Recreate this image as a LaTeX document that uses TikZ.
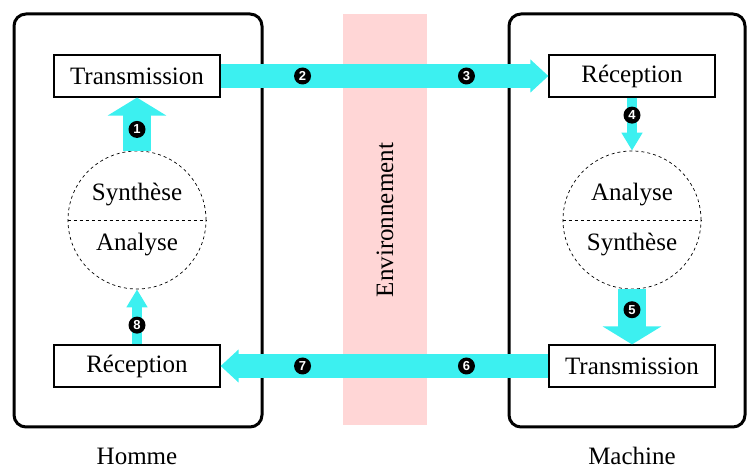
\documentclass[tikz,border=0pt]{standalone}
\usepackage{fontspec}
\setmainfont{Liberation Serif}
\newfontfamily\numfont{Liberation Sans}
\usetikzlibrary{arrows.meta}
\definecolor{flow}{RGB}{60,240,240}
\definecolor{envpink}{RGB}{255,214,214}
\begin{document}
\begin{tikzpicture}[x=1pt,y=-1pt,
  box/.style={draw,line width=1.2pt,fill=white,minimum width=166pt,minimum height=42pt,inner sep=0pt,font=\fontsize{25}{30}\selectfont},
  actor/.style={draw,line width=3pt,rounded corners=12pt},
  lbl/.style={inner sep=0pt,font=\fontsize{25}{30}\selectfont},
  proc/.style={draw,circle,dashed,line width=0.7pt,minimum size=138pt,inner sep=0pt},
  bigflow/.style={draw=flow,line width=28pt,-{Triangle[width=58pt,length=18pt]}},
  smallflow/.style={draw=flow,line width=10pt,-{Triangle[width=20pt,length=18pt]}},
  hflow/.style={draw=flow,line width=24pt,-{Triangle[width=32pt,length=18pt]}},
  num/.style={circle,fill=black,text=white,inner sep=0pt,minimum size=17pt,font=\numfont\bfseries\fontsize{13}{13}\selectfont}
]
\useasboundingbox (0,0) rectangle (748,470);
% environment band
\fill[envpink] (343,14) rectangle (427,425);
\node[lbl,rotate=90] (env) at (385,220) {Environnement};
% actors
\draw[actor] (14,14) rectangle (262,427);
\draw[actor] (509,14) rectangle (745,427);
\node[lbl] (homme) at (137,456) {Homme};
\node[lbl] (machine) at (632,456) {Machine};
% boxes
\node[box] (t1) at (137,76) {Transmission};
\node[box] (r1) at (137,366) {Réception};
\node[box] (r2) at (632,76) {Réception};
\node[box] (t2) at (632,366) {Transmission};
% processing circles
\node[proc] (c1) at (137,220) {};
\node[proc] (c2) at (632,220) {};
\draw[dashed,line width=0.7pt] (c1.west) -- (c1.east);
\draw[dashed,line width=0.7pt] (c2.west) -- (c2.east);
\node[lbl] (s1) at (137,195) {Synthèse};
\node[lbl] (a1) at (137,245) {Analyse};
\node[lbl] (a2) at (632,195) {Analyse};
\node[lbl] (s2) at (632,245) {Synthèse};
% flows
\draw[bigflow] (c1.north) -- node[num,pos=0.4]{1} (t1.south);
\draw[hflow] (t1.east) -- node[num,pos=0.25]{2} node[num,pos=0.75]{3} (r2.west);
\draw[smallflow] (r2.south) -- node[num,pos=0.33]{4} (c2.north);
\draw[bigflow] (c2.south) -- node[num,pos=0.37]{5} (t2.north);
\draw[hflow] (t2.west) -- node[num,pos=0.25]{6} node[num,pos=0.75]{7} (r1.east);
\draw[smallflow] (r1.north) -- node[num,pos=0.35]{8} (c1.south);
\end{tikzpicture}
\end{document}
